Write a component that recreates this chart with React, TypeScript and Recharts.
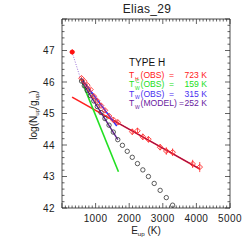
import React from 'react';
import {
  ComposedChart,
  ErrorBar,
  Line,
  Scatter,
  XAxis,
  YAxis,
} from 'recharts';

// observed CO fluxes (red diamonds)
const obsE = [580, 664, 752, 846, 946, 1051, 1162, 1278, 1400, 1527, 1660, 2091, 2246, 2406, 2572, 2921, 3104, 3292, 3889, 4099];
const obsLogN = [46.12, 46.02, 45.9, 45.76, 45.55, 45.4, 45.25, 45.1, 44.92, 44.8, 44.72, 44.42, 44.45, 44.26, 44.18, 43.93, 43.81, 43.77, 43.4, 43.3];
const obsErr = [0.05, 0.05, 0.05, 0.05, 0.06, 0.06, 0.06, 0.06, 0.07, 0.07, 0.08, 0.1, 0.1, 0.1, 0.1, 0.1, 0.12, 0.12, 0.13, 0.16];

// low-J point (filled diamond)
const lowE = [304];
const lowLogN = [46.95];
const lowErr = [0.04];

// model ladder (open circles)
const modelE = [581, 664, 752, 846, 946, 1051, 1162, 1278, 1400, 1527, 1660, 1798, 1942, 2091, 2246, 2406, 2572, 2744, 2921, 3104, 3292];
const modelLogN = [46.03, 45.88, 45.73, 45.57, 45.4, 45.22, 45.03, 44.84, 44.63, 44.41, 44.17, 43.99, 43.8, 43.61, 43.41, 43.21, 43.0, 42.78, 42.56, 42.33, 42.09];

// fitted lines, [E, logN] end points
const hotFit = [[300, 45.52], [4100, 43.24]];
const hotModel = [[1450, 44.83], [4100, 43.24]];
const coldFitC = [[560, 46.1], [1680, 43.15]];
const warmFit = [[580, 46.1], [1630, 44.6]];
const warmModel = [[580, 46.03], [1660, 44.17]];
const linkLine = [[300, 46.95], [560, 46.08]];

const xMajor = [1000, 2000, 3000, 4000, 5000];
const yMajor = [42, 43, 44, 45, 46, 47];

const xTicks = Array.from({ length: 51 }, (_, i) => i * 100);
const yTicks = Array.from({ length: 31 }, (_, i) => Math.round((42 + i * 0.2) * 10) / 10);

const toPts = (a: number[][]) => a.map(([e, v]) => ({ e, v }));
const obsData = obsE.map((e, i) => ({ e, v: obsLogN[i], err: obsErr[i] }));
const lowData = lowE.map((e, i) => ({ e, v: lowLogN[i], err: lowErr[i] }));
const modelData = modelE.map((e, i) => ({ e, v: modelLogN[i] }));

const FONT = '"Liberation Sans", Arial, sans-serif';
const INK = '#222';

const isMajorX = (v: number) => v % 1000 === 0;
const isMajorY = (v: number) => Math.abs(v - Math.round(v)) < 1e-6;

function BottomTick({ x, y, payload }: any) {
  const major = isMajorX(payload.value);
  return (
    <g>
      <line x1={x} x2={x} y1={y} y2={y - (major ? 5 : 2.5)} stroke={INK} strokeWidth={0.7} />
      {xMajor.includes(payload.value) && (
        <text x={x} y={y + 13.5} textAnchor="middle" fontSize={10} fontFamily={FONT} fill={INK} letterSpacing={0.4}>
          {payload.value}
        </text>
      )}
    </g>
  );
}

function TopTick({ x, y, payload }: any) {
  const major = isMajorX(payload.value);
  return <line x1={x} x2={x} y1={y} y2={y + (major ? 5 : 2.5)} stroke={INK} strokeWidth={0.7} />;
}

function LeftTick({ x, y, payload }: any) {
  const major = isMajorY(payload.value);
  return (
    <g>
      <line x1={x} x2={x + (major ? 5 : 2.5)} y1={y} y2={y} stroke={INK} strokeWidth={0.7} />
      {yMajor.includes(payload.value) && (
        <text x={x - 7} y={y + 3.5} textAnchor="end" fontSize={10} fontFamily={FONT} fill={INK} letterSpacing={0.4}>
          {payload.value}
        </text>
      )}
    </g>
  );
}

function RightTick({ x, y, payload }: any) {
  const major = isMajorY(payload.value);
  return <line x1={x} x2={x - (major ? 5 : 2.5)} y1={y} y2={y} stroke={INK} strokeWidth={0.7} />;
}

function OpenDiamond({ cx, cy }: any) {
  const r = 2.8;
  return (
    <path
      d={`M${cx},${cy - r}L${cx + r},${cy}L${cx},${cy + r}L${cx - r},${cy}Z`}
      fill="none"
      stroke="#ff2a2a"
      strokeWidth={0.9}
    />
  );
}

function FilledDiamond({ cx, cy }: any) {
  const r = 3;
  return <path d={`M${cx},${cy - r}L${cx + r},${cy}L${cx},${cy + r}L${cx - r},${cy}Z`} fill="#ff1010" />;
}

function OpenCircle({ cx, cy }: any) {
  return <circle cx={cx} cy={cy} r={2.2} fill="none" stroke="#333" strokeWidth={0.8} />;
}

function Sub({ children }: { children: React.ReactNode }) {
  return (
    <tspan fontSize="0.62em" dy={2}>
      {children}
    </tspan>
  );
}

function LegendRow({ y, color, sub, sup, tag, eqX, value }: any) {
  return (
    <g fill={color} fontFamily={FONT} fontSize={8.6}>
      <text x={129} y={y}>
        T
        <tspan x={135} dy={2.5} fontSize={5}>{sub}</tspan>
        {sup ? <tspan x={135.8} dy={-7} fontSize={5}>{sup}</tspan> : null}
        <tspan x={140.5} dy={sup ? 4.5 : -2.5}>({tag})</tspan>
      </text>
      <text x={eqX} y={y}>=</text>
      <text x={207} y={y} textAnchor="end">{value}</text>
    </g>
  );
}

export default function App() {
  return (
    <div style={{ position: 'absolute', left: 0, top: 0, width: 249, height: 249, background: '#fff' }}>
      <ComposedChart
        width={249}
        height={249}
        margin={{ top: 18, right: 18, bottom: 40, left: 61 }}
      >
        <XAxis
          xAxisId="b"
          dataKey="e"
          type="number"
          domain={[0, 5000]}
          ticks={xTicks}
          interval={0}
          height={1}
          tickSize={0}
          tickMargin={0}
          tickLine={false}
          axisLine={{ stroke: INK, strokeWidth: 0.8 }}
          tick={<BottomTick />}
          allowDataOverflow
        />
        <XAxis
          xAxisId="t"
          orientation="top"
          dataKey="e"
          type="number"
          domain={[0, 5000]}
          ticks={xTicks}
          interval={0}
          height={1}
          tickSize={0}
          tickMargin={0}
          tickLine={false}
          axisLine={{ stroke: INK, strokeWidth: 0.8 }}
          tick={<TopTick />}
          allowDataOverflow
        />
        <YAxis
          yAxisId="l"
          dataKey="v"
          type="number"
          domain={[42, 48]}
          ticks={yTicks}
          interval={0}
          width={1}
          tickSize={0}
          tickMargin={0}
          tickLine={false}
          axisLine={{ stroke: INK, strokeWidth: 0.8 }}
          tick={<LeftTick />}
          allowDataOverflow
        />
        <YAxis
          yAxisId="r"
          orientation="right"
          dataKey="v"
          type="number"
          domain={[42, 48]}
          ticks={yTicks}
          interval={0}
          width={1}
          tickSize={0}
          tickMargin={0}
          tickLine={false}
          axisLine={{ stroke: INK, strokeWidth: 0.8 }}
          tick={<RightTick />}
          allowDataOverflow
        />

        <Line xAxisId="b" yAxisId="l" data={toPts(hotFit)} dataKey="v" stroke="#ff2020" strokeWidth={1.6} dot={false} isAnimationActive={false} />
        <Line xAxisId="b" yAxisId="l" data={toPts(hotModel)} dataKey="v" stroke="#7a1060" strokeWidth={0.9} dot={false} isAnimationActive={false} />
        <Line xAxisId="b" yAxisId="l" data={toPts(coldFitC)} dataKey="v" stroke="#22e022" strokeWidth={1.6} dot={false} isAnimationActive={false} />
        <Line xAxisId="b" yAxisId="l" data={toPts(warmFit)} dataKey="v" stroke="#3030ff" strokeWidth={1.6} dot={false} isAnimationActive={false} />
        <Line xAxisId="b" yAxisId="l" data={toPts(warmModel)} dataKey="v" stroke="#602090" strokeWidth={1.4} dot={false} isAnimationActive={false} />
        <Line xAxisId="b" yAxisId="l" data={toPts(linkLine)} dataKey="v" stroke="#9a70d8" strokeWidth={1} strokeDasharray="1 1.5" dot={false} isAnimationActive={false} />

        <Scatter xAxisId="b" yAxisId="l" data={modelData} dataKey="v" shape={<OpenCircle />} isAnimationActive={false} />
        <Scatter xAxisId="b" yAxisId="l" data={obsData} dataKey="v" shape={<OpenDiamond />} isAnimationActive={false}>
          <ErrorBar dataKey="err" direction="y" width={0} stroke="#ff3a3a" strokeWidth={0.9} isAnimationActive={false} />
        </Scatter>
        <Scatter xAxisId="b" yAxisId="l" data={lowData} dataKey="v" shape={<FilledDiamond />} isAnimationActive={false}>
          <ErrorBar dataKey="err" direction="y" width={2} stroke="#ff1010" strokeWidth={1} isAnimationActive={false} />
        </Scatter>
      </ComposedChart>

      <svg width={249} height={249} style={{ position: 'absolute', left: 0, top: 0, pointerEvents: 'none' }}>
        <text x={147} y={13} textAnchor="middle" fontFamily={FONT} fontSize={12} fill={INK} letterSpacing={0.3}>
          Elias_29
        </text>
        <text x={146} y={234} textAnchor="middle" fontFamily={FONT} fontSize={10} fill={INK}>
          E<Sub>up</Sub>
          <tspan dy={-2}> (K)</tspan>
        </text>
        <text
          x={0}
          y={0}
          transform="translate(37,115) rotate(-90)"
          textAnchor="middle"
          fontFamily={FONT}
          fontSize={10}
          fill={INK}
        >
          log(N<Sub>up</Sub>
          <tspan dy={-2}>/g</tspan>
          <Sub>up</Sub>
          <tspan dy={-2}>)</tspan>
        </text>

        <text x={129} y={66} fontFamily={FONT} fontSize={10} fill="#111">TYPE H</text>
        <LegendRow y={78} color="#ff2020" sub="H" tag="OBS" eqX={169} value="723 K" />
        <LegendRow y={87} color="#22e022" sub="W" sup="C" tag="OBS" eqX={169} value="159 K" />
        <LegendRow y={96.5} color="#4a30f0" sub="W" tag="OBS" eqX={169} value="315 K" />
        <LegendRow y={106} color="#6a1aa0" sub="W" tag="MODEL" eqX={179} value="252 K" />
      </svg>
    </div>
  );
}
